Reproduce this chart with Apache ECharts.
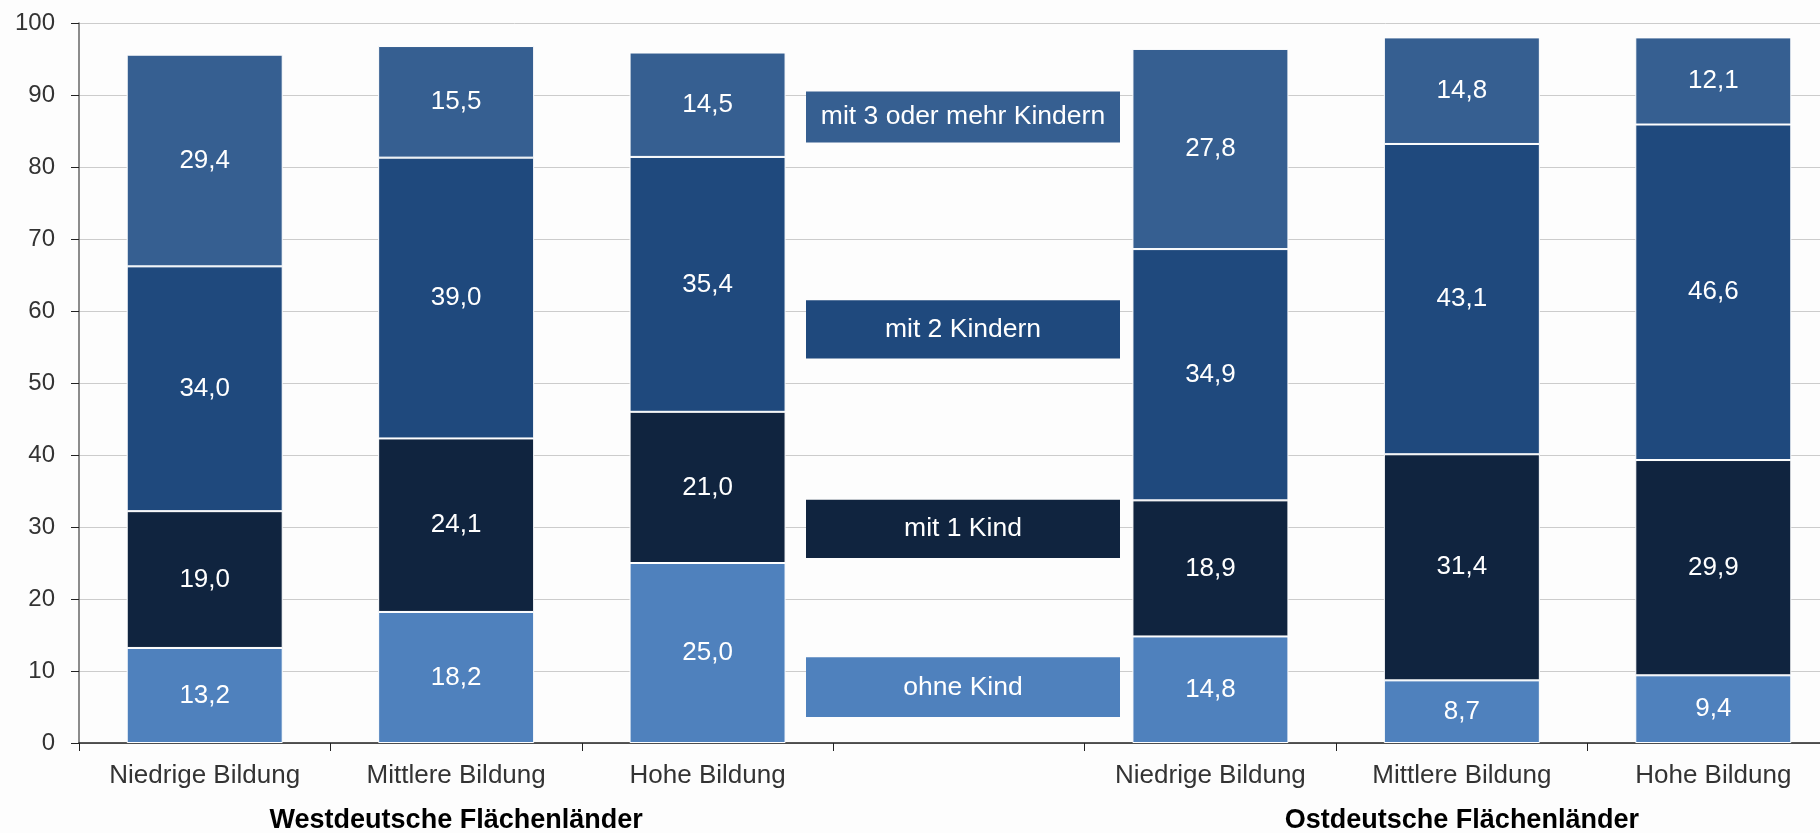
<!DOCTYPE html>
<html>
<head>
<meta charset="utf-8">
<script src="https://cdn.jsdelivr.net/npm/echarts@6/dist/echarts.min.js"></script>
<style>
  html, body { margin: 0; padding: 0; background: #fdfdfd; }
  #chart { width: 1820px; height: 833px; }
</style>
</head>
<body>
<div id="chart"></div>
<script>
// Kategorien (leere Mitte als Platz für die Legende)
const categories = ['Niedrige Bildung', 'Mittlere Bildung', 'Hohe Bildung', '', 'Niedrige Bildung', 'Mittlere Bildung', 'Hohe Bildung']
// Werte in %
const ohneKind = [13.2, 18.2, 25.0, null, 14.8, 8.7, 9.4]
const mit1Kind = [19.0, 24.1, 21.0, null, 18.9, 31.4, 29.9]
const mit2Kindern = [34.0, 39.0, 35.4, null, 34.9, 43.1, 46.6]
const mit3Kindern = [29.4, 15.5, 14.5, null, 27.8, 14.8, 12.1]
const seriesNames = ['ohne Kind', 'mit 1 Kind', 'mit 2 Kindern', 'mit 3 oder mehr Kindern']
const groupNames = ['Westdeutsche Flächenländer', 'Ostdeutsche Flächenländer']
const groupCenters = [1, 5]

const colors = ['#4f81bd', '#10243f', '#1f497d', '#365f91']
const font = "'Liberation Sans', Arial, sans-serif"
// Lage der Legendenkästen in Achseneinheiten (oben, unten)
const legendBands = [[11.9, 3.6], [33.8, 25.7], [61.5, 53.4], [90.5, 83.4]]

const chart = echarts.init(document.getElementById('chart'))

const values = [ohneKind, mit1Kind, mit2Kindern, mit3Kindern]
const series = values.map((data, i) => ({
  name: seriesNames[i],
  type: 'bar',
  stack: 'total',
  barWidth: 156,
  data: data,
  itemStyle: { color: colors[i], borderColor: '#ffffff', borderWidth: 1 },
  label: {
    show: true,
    position: 'inside',
    color: '#ffffff',
    fontSize: 26,
    fontFamily: font,
    formatter: p => p.value == null ? '' : p.value.toFixed(1).replace('.', ',')
  }
}))

chart.setOption({
  backgroundColor: '#fdfdfd',
  animation: false,
  // rechter Rand liegt außerhalb des Bildes (wie im Original abgeschnitten)
  grid: { left: 79, top: 23, width: 1760, height: 720, containLabel: false, outerBoundsMode: 'none' },
  xAxis: {
    type: 'category',
    data: categories,
    axisLine: { lineStyle: { color: '#222', width: 1.5 } },
    axisTick: { show: true, length: 8, lineStyle: { color: '#222' } },
    axisLabel: { color: '#333', fontSize: 26, fontFamily: font, margin: 20 }
  },
  yAxis: {
    type: 'value',
    min: 0,
    max: 100,
    interval: 10,
    axisLine: { show: true, lineStyle: { color: '#666', width: 1.5 } },
    axisTick: { show: true, length: 8, lineStyle: { color: '#222' } },
    axisLabel: { color: '#333', fontSize: 24, fontFamily: font, margin: 24 },
    splitLine: { lineStyle: { color: '#cccccc', width: 1 } }
  },
  series: series
})

// Legendenkästen und Gruppenbeschriftungen an den Achsen ausrichten
const graphic = []
legendBands.forEach((band, i) => {
  const top = chart.convertToPixel({ yAxisIndex: 0 }, band[0])
  const bottom = chart.convertToPixel({ yAxisIndex: 0 }, band[1])
  const cx = chart.convertToPixel({ xAxisIndex: 0 }, 3) + 4
  graphic.push({
    type: 'rect',
    shape: { x: cx - 157, y: top, width: 314, height: bottom - top },
    style: { fill: colors[i] }
  })
  graphic.push({
    type: 'text',
    x: cx,
    y: (top + bottom) / 2,
    style: {
      text: seriesNames[i],
      fill: '#ffffff',
      font: '26.5px ' + font,
      align: 'center',
      verticalAlign: 'middle'
    }
  })
})
groupNames.forEach((name, i) => {
  graphic.push({
    type: 'text',
    x: chart.convertToPixel({ xAxisIndex: 0 }, groupCenters[i]),
    y: 821,
    style: {
      text: name,
      fill: '#000000',
      font: 'bold 27px ' + font,
      align: 'center',
      verticalAlign: 'middle'
    }
  })
})
chart.setOption({ graphic: graphic })
</script>
</body>
</html>
